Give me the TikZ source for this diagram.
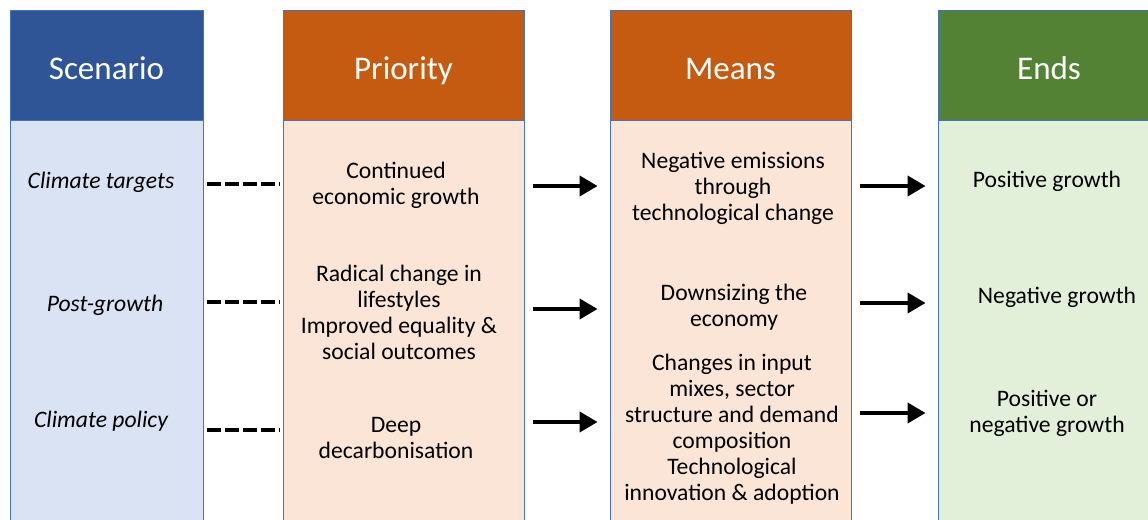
\documentclass[tikz,border=0pt]{standalone}
\usepackage{fontspec}
\setmainfont{Carlito}
\usetikzlibrary{arrows.meta}

\definecolor{scenhead}{HTML}{2F5597}
\definecolor{scenfill}{HTML}{DAE3F3}
\definecolor{orghead}{HTML}{C55A11}
\definecolor{orgfill}{HTML}{FBE5D6}
\definecolor{endhead}{HTML}{548235}
\definecolor{endfill}{HTML}{E2F0D9}
\definecolor{edgeblue}{HTML}{4472C4}

\tikzset{
  colhead/.style={draw=edgeblue, line width=.6pt, text=white, minimum height=2.75cm,
    inner sep=0pt, text height=20pt, text depth=0pt, font=\fontsize{23.5}{28}\selectfont},
  colbody/.style={draw=edgeblue, line width=.6pt, minimum height=10.5cm, anchor=north},
  entry/.style={align=center, inner sep=1pt, font=\fontsize{16.8}{18.5}\selectfont},
  link/.style={line width=2.7pt, dash pattern=on .33cm off .12cm},
  push/.style={line width=2.8pt, -{Triangle[length=.45cm, width=.5cm]}}
}

\begin{document}
\begin{tikzpicture}[x=0.025cm, y=-0.025cm]
\clip (0,0) rectangle (1148,519);
\fill[white] (0,0) rectangle (1148,519);
% column heads and bodies
\node[colhead, fill=scenhead, minimum width=4.825cm] (scenhead) at (106.5,65) {Scenario};
\node[colbody, fill=scenfill, minimum width=4.825cm] (scenbody) at (scenhead.south) {};
\node[colhead, fill=orghead, minimum width=6.025cm] (priohead) at (403.5,65) {Priority};
\node[colbody, fill=orgfill, minimum width=6.025cm] (priobody) at (priohead.south) {};
\node[colhead, fill=orghead, minimum width=6.025cm] (meanhead) at (730.5,65) {Means};
\node[colbody, fill=orgfill, minimum width=6.025cm] (meanbody) at (meanhead.south) {};
\node[colhead, fill=endhead, minimum width=5.55cm] (endhead) at (1049,65) {Ends};
\node[colbody, fill=endfill, minimum width=5.55cm] (endbody) at (endhead.south) {};
% scenario
\node[entry, font=\fontsize{16.8}{18.5}\selectfont\itshape] (scen1) at (101,182) {Climate targets};
\node[entry, font=\fontsize{16.8}{18.5}\selectfont\itshape] (scen2) at (105,305) {Post-growth};
\node[entry, font=\fontsize{16.8}{18.5}\selectfont\itshape] (scen3) at (101,421) {Climate policy};
% priority
\node[entry] (prio1) at (396,185) {Continued\\economic growth};
\node[entry] (prio2) at (399,312) {Radical change in\\lifestyles\\Improved equality \&\\social outcomes};
\node[entry] (prio3) at (396,438) {Deep\\decarbonisation};
% means
\node[entry] (mean1) at (733,188) {Negative emissions\\through\\technological change};
\node[entry] (mean2) at (734,307) {Downsizing the\\economy};
\node[entry] (mean3) at (732,429) {Changes in input\\mixes, sector\\structure and demand\\composition\\Technological\\innovation \& adoption};
% ends
\node[entry] (end1) at (1047,181) {Positive growth};
\node[entry] (end2) at (1057,297) {Negative growth};
\node[entry] (end3) at (1047,413) {Positive or\\negative growth};
% rows of the connectors
\coordinate (dash1) at (0,184);
\coordinate (dash2) at (0,302);
\coordinate (dash3) at (0,430);
\coordinate (pm1) at (0,186);
\coordinate (pm2) at (0,309);
\coordinate (pm3) at (0,422);
\coordinate (me1) at (0,186);
\coordinate (me2) at (0,303);
\coordinate (me3) at (0,413);
\foreach \r in {1,2,3}{
  \draw[link, shorten <=.1cm, shorten >=.06cm] (dash\r -| scenbody.east) -- (dash\r -| priobody.west);
  \draw[push, shorten <=.22cm, shorten >=.3cm] (pm\r -| priobody.east) -- (pm\r -| meanbody.west);
  \draw[push, shorten <=.22cm, shorten >=.3cm] (me\r -| meanbody.east) -- (me\r -| endbody.west);
}
\end{tikzpicture}
\end{document}
